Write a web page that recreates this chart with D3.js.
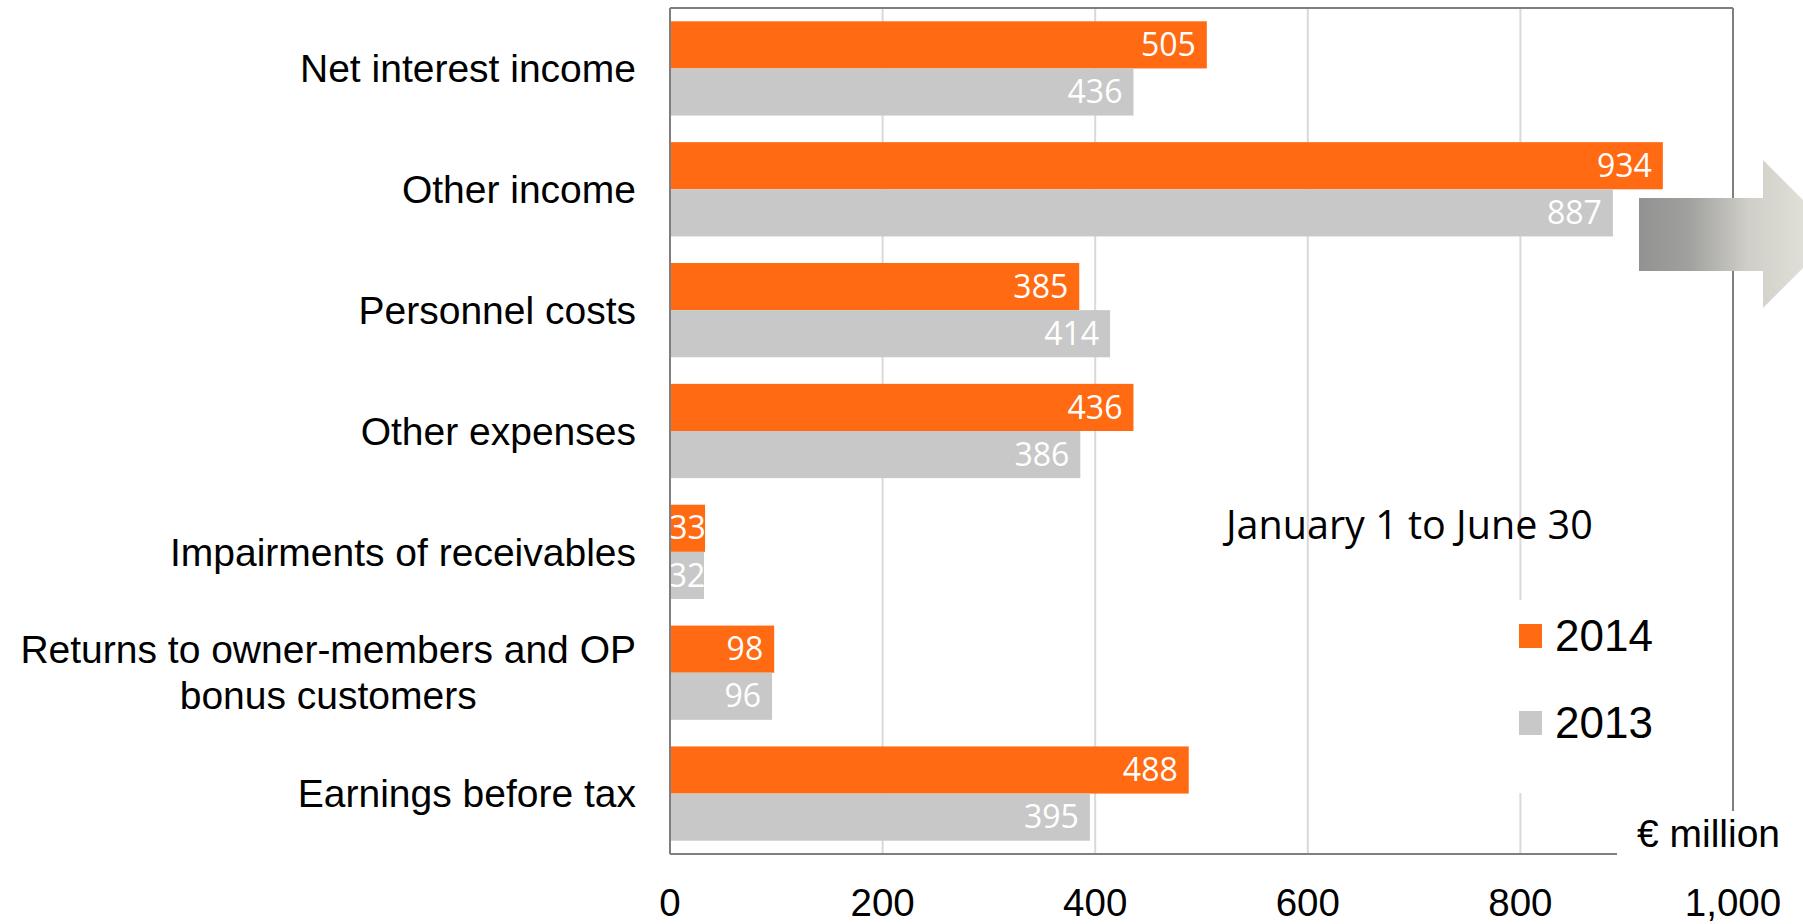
<!DOCTYPE html>
<html>
<head>
<meta charset="utf-8">
<script src="https://cdn.jsdelivr.net/npm/d3@7"></script>
<style>
  html, body { margin: 0; padding: 0; background: #ffffff; }
  svg { display: block; }
</style>
</head>
<body>
<svg id="chart" width="1803" height="924"></svg>
<script>
// ---- data ----
const categories = [
  ["Net interest income"],
  ["Other income"],
  ["Personnel costs"],
  ["Other expenses"],
  ["Impairments of receivables"],
  ["Returns to owner-members and OP", "bonus customers"],
  ["Earnings before tax"]
];
const seriesNames = ["2014", "2013"];
const values2014 = [505, 934, 385, 436, 33, 98, 488];
const values2013 = [436, 887, 414, 386, 32, 96, 395];
const tickValues = [0, 200, 400, 600, 800, 1000];
const periodLabel = "January 1 to June 30";
const unitLabel = "€ million";

// ---- styles ----
const colors = { "2014": "#ff6a13", "2013": "#c8c8c8" };
const svg = d3.select("#chart");
const W = 1803, H = 924;
const plot = { left: 670, right: 1733, top: 8, bottom: 854 };

const seriesValues = { "2014": values2014, "2013": values2013 };
const rows = categories.map((c, i) => ({ key: i, label: c, vals: seriesNames.map(s => ({ s, v: seriesValues[s][i] })) }));

const x = d3.scaleLinear().domain([0, 1000]).range([plot.left, plot.right]);
const y = d3.scaleBand().domain(rows.map(r => r.key)).range([plot.top, plot.bottom])
  .paddingInner(0.22).paddingOuter(0.11);
const ySub = d3.scaleBand().domain(seriesNames).range([0, y.bandwidth()]);

// gridlines
svg.append("g").selectAll("line").data(tickValues.filter(t => t > 0 && t < 1000)).join("line")
  .attr("x1", d => x(d)).attr("x2", d => x(d))
  .attr("y1", plot.top).attr("y2", plot.bottom)
  .attr("stroke", "#d9d9d9").attr("stroke-width", 2);

// frame
const frameColor = "#7f7f7f";
svg.append("line").attr("x1", x(0)).attr("x2", x(1000)).attr("y1", plot.top).attr("y2", plot.top)
  .attr("stroke", frameColor).attr("stroke-width", 2);
svg.append("line").attr("x1", x(1000)).attr("x2", x(1000)).attr("y1", plot.top).attr("y2", plot.bottom)
  .attr("stroke", frameColor).attr("stroke-width", 2);
svg.append("line").attr("x1", x(0)).attr("x2", x(1000)).attr("y1", plot.bottom).attr("y2", plot.bottom)
  .attr("stroke", frameColor).attr("stroke-width", 2);

// bars
const rowG = svg.append("g").selectAll("g").data(rows).join("g")
  .attr("transform", d => `translate(0,${y(d.key)})`);
rowG.selectAll("rect").data(d => d.vals).join("rect")
  .attr("x", x(0))
  .attr("y", d => ySub(d.s))
  .attr("width", d => x(d.v) - x(0))
  .attr("height", ySub.bandwidth())
  .attr("fill", d => colors[d.s]);

// left axis line (on top of bars)
svg.append("line").attr("x1", x(0)).attr("x2", x(0)).attr("y1", plot.top).attr("y2", plot.bottom)
  .attr("stroke", frameColor).attr("stroke-width", 2);

// value labels
const pad = 11;
rowG.selectAll("text.val").data(d => d.vals).join("text")
  .attr("class", "val")
  .attr("y", d => ySub(d.s) + ySub.bandwidth() / 2)
  .attr("dy", "0.35em")
  .attr("font-family", "'Open Sans', sans-serif")
  .attr("font-size", 32)
  .attr("fill", "#ffffff")
  .text(d => d3.format(",")(d.v))
  .each(function(d) {
    const tw = this.getComputedTextLength();
    const bw = x(d.v) - x(0);
    if (bw < tw + 2 * pad) {
      d3.select(this).attr("text-anchor", "middle").attr("x", x(0) + bw / 2);
    } else {
      d3.select(this).attr("text-anchor", "end").attr("x", x(d.v) - pad);
    }
  });

// category labels
const catFont = "'Liberation Sans', Arial, sans-serif";
const labelX = 636;
const cat = svg.append("g").selectAll("text").data(rows).join("text")
  .attr("x", labelX)
  .attr("text-anchor", "end")
  .attr("font-family", catFont)
  .attr("font-size", 39)
  .attr("fill", "#000");
cat.each(function(d) {
  const n = d.label.length, lh = 46;
  const cy = y(d.key) + y.bandwidth() / 2;
  d3.select(this).selectAll("tspan").data(d.label).join("tspan")
    .attr("x", labelX)
    .attr("y", (l, i) => cy + (i - (n - 1) / 2) * lh)
    .attr("dy", "0.35em")
    .text(l => l);
});
// center following lines of multi-line labels under the first
cat.each(function(d) {
  if (d.label.length > 1) {
    const tsp = d3.select(this).selectAll("tspan").nodes();
    const w0 = tsp[0].getComputedTextLength();
    tsp.slice(1).forEach(t => {
      const w1 = t.getComputedTextLength();
      d3.select(t).attr("x", labelX - (w0 - w1) / 2);
    });
  }
});

// x tick labels
svg.append("g").selectAll("text").data(tickValues).join("text")
  .attr("x", d => x(d))
  .attr("y", 903)
  .attr("dy", "0.35em")
  .attr("text-anchor", "middle")
  .attr("font-family", catFont)
  .attr("font-size", 38.5)
  .attr("fill", "#000")
  .text(d => d3.format(",")(d));

// unit label box
svg.append("rect").attr("x", 1617).attr("y", 811).attr("width", W - 1617).attr("height", 50).attr("fill", "#fff");
svg.append("text").attr("x", 1637).attr("y", 833).attr("dy", "0.35em")
  .attr("font-family", catFont).attr("font-size", 39).attr("fill", "#000").text(unitLabel);

// period label
svg.append("text").attr("x", 1226).attr("y", 525).attr("dy", "0.35em")
  .attr("font-family", "'Open Sans', sans-serif").attr("font-size", 39.5).attr("fill", "#000")
  .text(periodLabel);

// legend
const leg = svg.append("g");
leg.append("rect").attr("x", 1506).attr("y", 600).attr("width", 190).attr("height", 193).attr("fill", "#fff");
const legItems = leg.selectAll("g").data(seriesNames).join("g")
  .attr("transform", (d, i) => `translate(1519,${636 + i * 87})`);
legItems.append("rect").attr("x", 0).attr("y", -12).attr("width", 23).attr("height", 24)
  .attr("fill", d => colors[d]);
legItems.append("text").attr("x", 36).attr("y", 0).attr("dy", "0.35em")
  .attr("font-family", catFont).attr("font-size", 44).attr("fill", "#000").text(d => d);

// decorative arrow
const defs = svg.append("defs");
const grad = defs.append("linearGradient").attr("id", "arrowGrad")
  .attr("gradientUnits", "userSpaceOnUse").attr("x1", 1639).attr("x2", 1837).attr("y1", 0).attr("y2", 0);
grad.append("stop").attr("offset", "0%").attr("stop-color", "#929292");
grad.append("stop").attr("offset", "25%").attr("stop-color", "#a0a09e");
grad.append("stop").attr("offset", "55%").attr("stop-color", "#cfcec8");
grad.append("stop").attr("offset", "100%").attr("stop-color", "#ebe9df");
const ax0 = 1639, ax1 = 1763, tip = 1837, sTop = 198, sBot = 271, hTop = 160, hBot = 308;
svg.append("path")
  .attr("d", `M${ax0},${sTop}L${ax1},${sTop}L${ax1},${hTop}L${tip},${(hTop + hBot) / 2}L${ax1},${hBot}L${ax1},${sBot}L${ax0},${sBot}Z`)
  .attr("fill", "url(#arrowGrad)");
</script>
</body>
</html>
